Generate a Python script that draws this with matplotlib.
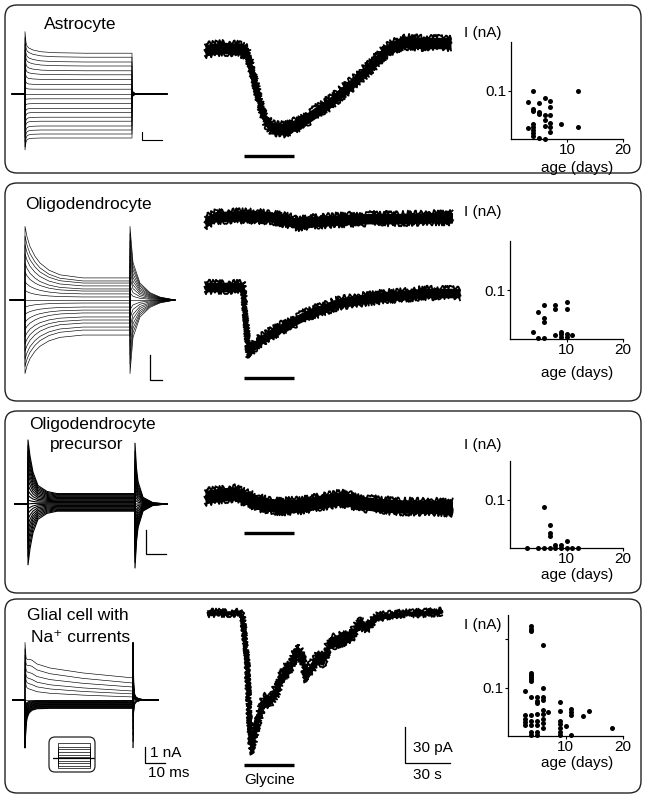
import numpy as np
import matplotlib
matplotlib.use("Agg")
import matplotlib.pyplot as plt
from matplotlib.patches import FancyBboxPatch

# ---------------- scatter data: age (days) vs glycine current I (nA)
astro_age = [4, 3, 3, 4, 4, 4, 4, 4, 4, 4, 5, 5, 5, 5, 6, 6, 6, 6, 6, 7, 7, 7, 7, 7, 7, 9, 12, 12]
astro_I = [0.100, 0.076, 0.022, 0.062, 0.058, 0.030, 0.024, 0.018, 0.012, 0.007,
           0.074, 0.056, 0.052, 0.002, 0.085, 0.050, 0.040, 0.026, 0.001,
           0.078, 0.066, 0.050, 0.033, 0.024, 0.014, 0.030, 0.100, 0.024]

oligo_age = [4, 5, 6, 5, 6, 6, 6, 8, 8, 10, 10, 8, 9, 9, 9, 10, 10, 11]
oligo_I = [0.015, 0.002, 0.002, 0.055, 0.069, 0.042, 0.035, 0.069, 0.062, 0.075,
           0.062, 0.009, 0.015, 0.011, 0.005, 0.005, 0.011, 0.009]

opc_age = [3, 5, 6, 7, 8, 9, 10, 11, 12, 6, 7, 7, 7, 8, 9, 10]
opc_I = [0.0, 0.0, 0.0, 0.0, 0.0, 0.0, 0.0, 0.0, 0.0, 0.084, 0.048, 0.031, 0.024, 0.006, 0.007, 0.015]

glia_age = [4, 4, 4, 6, 4, 4, 4, 4, 4, 3, 6, 4, 5, 5, 5, 6, 6, 9,
            3, 3, 3, 3, 4, 5, 4, 4, 5, 5, 6, 6, 6, 6, 6, 7, 9, 9, 9, 9, 9, 9,
            10, 11, 11, 11, 13, 14, 18, 4, 4, 5, 5, 11]
glia_I = [0.228, 0.222, 0.216, 0.189, 0.130, 0.126, 0.122, 0.118, 0.114, 0.092, 0.100,
          0.081, 0.081, 0.073, 0.068, 0.080, 0.074, 0.071,
          0.043, 0.036, 0.029, 0.022, 0.043, 0.046, 0.032, 0.022, 0.032, 0.022,
          0.053, 0.046, 0.036, 0.026, 0.016, 0.049, 0.051, 0.032, 0.024, 0.016, 0.009, 0.002,
          0.020, 0.056, 0.049, 0.043, 0.041, 0.051, 0.017, 0.009, 0.002, 0.009, 0.002, 0.002]

# ---------------- glycine responses: time (s), current (pA), band half width (pA)
astro_t = [0, 11, 23, 28, 32, 36, 40, 45, 53, 61, 69, 83, 97, 110, 121, 132, 146, 164]
astro_pA = [-1, 1, 0, -3, -20, -42, -59, -66, -67, -63, -57, -45, -30, -15, -1, 6, 5, 5]

oligo_top_t = [0, 7, 23, 43, 57, 61, 70, 90, 110, 130, 150, 165]
oligo_top_pA = [-2, 2.5, 3.3, 2.5, -1, -3.3, -1.7, 0, 1, 1, 1.7, 1.7]
oligo_t = [0, 25, 25.5, 29, 35, 45, 57, 68, 79, 90, 101, 112, 123, 135, 145, 157, 170]
oligo_pA = [0, 0, -1, -55, -46, -38, -30, -23, -18, -13, -11, -9, -7.5, -6.5, -5, -5, -5]

opc_t = [0, 11, 20, 28, 36, 50, 63, 77, 91, 105, 119, 132, 151, 165]
opc_pA = [0, 2, 3, -1, -5, -8, -7, -4, -1, -5, -7, -8, -8, -9]

glia_t = [2, 23, 25, 28, 29.5, 31, 33, 35, 39, 43, 48, 52, 57, 61, 65, 67, 71, 75, 79,
          83, 90, 97, 103, 108, 115, 123, 135, 145, 158]
glia_pA = [0, 0, -3, -37, -87, -114, -103, -91, -73, -73, -64, -50, -45, -31, -37, -53,
           -45, -37, -39, -25, -22, -20, -8, -12, -3, -2, 0, 0, 1]
glia_w = [2, 2, 2, 2.5, 3.5, 5, 6, 6, 6, 6, 6, 6, 6, 6, 6, 6, 6, 6, 6, 6, 6, 5, 5, 4,
          3, 2.5, 2, 2, 2]

gly_on, gly_off = 26, 59   # glycine application (s)

# ---------------- current families (nA): steady level, onset transient, slow part, tail
astro_steady = [2.55, 2.3, 2.0, 1.75, 1.45, 1.2, 0.9, 0.6, 0.3, 0.0,
                -0.3, -0.6, -0.9, -1.15, -1.45, -1.7, -2.0, -2.25, -2.5, -2.75]
astro_spike = [3.6, 3.25, 2.9, 2.55, 2.2, 1.8, 1.4, 1.0, 0.5, 0.0,
               -0.4, -0.8, -1.2, -1.6, -2.0, -2.3, -2.7, -3.0, -3.3, -3.5]
astro_sag = [0.3, 0.27, 0.23, 0.2, 0.15, 0.1, 0.05, 0, 0, 0, 0, 0, 0, 0, 0, 0, 0, 0, 0, 0]
astro_tail = [-0.3, -0.27, -0.24, -0.21, -0.18, -0.15, -0.12, -0.08, -0.04, 0,
              0.04, 0.08, 0.12, 0.15, 0.18, 0.21, 0.24, 0.27, 0.3, 0.32]
astro_step_t = [0, 0.5, 1, 2, 4, 8, 15, 30, 53.5]
astro_fast = [1, 0.35, 0.15, 0.06, 0.02, 0, 0, 0, 0]
astro_slow = [1, 1, 0.95, 0.85, 0.6, 0.3, 0.1, 0, 0]
astro_off_t = [0, 0.5, 1.5, 3, 6, 17.5]
astro_off = [1, 0.4, 0.12, 0.04, 0, 0]

oligo_steady = [1.38, 1.19, 1.06, 0.88, 0.69, 0.56, 0.38, 0.19, 0.0, -0.19,
                -0.44, -0.63, -0.81, -1.06, -1.25, -1.44, -1.69, -1.88, -2.19]
oligo_spike = [4.6, 4.0, 3.45, 2.9, 2.3, 1.75, 1.15, 0.6, 0.0, -0.45,
               -0.9, -1.4, -1.85, -2.3, -2.75, -3.2, -3.7, -4.15, -4.6]
oligo_tail = [-4.6, -4.0, -3.45, -2.9, -2.3, -1.75, -1.15, -0.6, 0.0, 0.45,
              0.9, 1.4, 1.85, 2.3, 2.75, 3.2, 3.7, 4.15, 4.6]
oligo_step_t = [0, 1, 2.5, 5, 7.5, 12, 17.5, 29, 52.5]
oligo_fast = [1, 0.8, 0.61, 0.42, 0.29, 0.15, 0.06, 0, 0]
oligo_off_t = [0, 1.5, 5, 10, 15, 22.5]
oligo_off = [1, 0.51, 0.23, 0.1, 0.04, 0]

opc_steady = [0.65, 0.6, 0.55, 0.5, 0.45, 0.4, 0.35, 0.3, 0.25, 0.2, 0.15, 0.1,
              0.05, 0.0, -0.05, -0.1, -0.15, -0.2, -0.25, -0.3, -0.35, -0.4, -0.45]
opc_spike = [4.0, 3.65, 3.3, 2.95, 2.6, 2.25, 1.9, 1.55, 1.2, 0.85, 0.55, 0.25,
             0.0, -0.3, -0.6, -0.95, -1.3, -1.65, -2.0, -2.4, -2.8, -3.3, -3.8]
opc_tail = [-4.0, -3.65, -3.3, -2.95, -2.6, -2.25, -1.9, -1.55, -1.2, -0.85, -0.55, -0.25,
            0.0, 0.3, 0.6, 0.95, 1.3, 1.65, 2.0, 2.4, 2.8, 3.3, 3.8]
opc_step_t = [0, 1, 2.5, 5, 9.5, 14.5, 53.5]
opc_fast = [1, 0.7, 0.4, 0.15, 0.04, 0, 0]
opc_off_t = [0, 0.7, 1.5, 4, 9, 16]
opc_off = [1, 0.6, 0.37, 0.11, 0.02, 0]

glia_steady = [1.38, 1.06, 0.81, 0.56, 0.38, 0.19, 0.0, -0.04, -0.08, -0.12,
               -0.16, -0.2, -0.24, -0.28, -0.32, -0.36, -0.4, -0.44, -0.48, -0.52]
glia_spike = [3.6, 3.2, 2.8, 2.4, 2.0, 1.6, 0.0, -0.5, -0.7, -0.9,
              -1.1, -1.3, -1.5, -1.7, -1.9, -2.1, -2.3, -2.5, -2.75, -3.0]
glia_sag = [1.0, 0.94, 0.75, 0.63, 0.5, 0.37, 0, 0, 0, 0, 0, 0, 0, 0, 0, 0, 0, 0, 0, 0]
glia_tail = [-3.0, -2.6, -2.2, -1.8, -1.4, -1.0, 0.0, 0.5, 0.7, 0.9,
             1.1, 1.3, 1.5, 1.7, 1.9, 2.1, 2.4, 2.7, 3.0, 3.6]
glia_step_t = [0, 0.5, 1, 2, 3.5, 6, 12.5, 29, 54]
glia_fast = [1, 0.45, 0.25, 0.12, 0.05, 0.01, 0, 0, 0]
glia_slow = [0, 0.3, 0.6, 0.9, 1, 0.85, 0.62, 0.31, 0]
glia_off_t = [0, 0.3, 0.8, 1.5, 3, 6, 12.5]
glia_off = [1, 0.3, 0.1, 0.05, 0.02, 0, 0]

# voltage protocol drawn in the inset (mV)
hold_mV = -70
protocol_mV = [25, 0, -15, -30, -50, -65, -90, -100, -120, -130]

# ---------------- layout
plt.rcParams['font.family'] = ['Liberation Sans', 'DejaVu Sans']
W, H = 645, 796
MS_PX, NA_PX = 2.0, 16.0      # family scale: px per ms, px per nA
S_PX, PA_PX = 1.5, 1.2        # glycine traces: px per s, px per pA
T0_PX = 205                   # x pixel where glycine traces start

fig = plt.figure(figsize=(W / 100, H / 100), dpi=100)


def axes_px(x0, y0, x1, y1):
    return fig.add_axes([x0 / W, 1 - y1 / H, (x1 - x0) / W, (y1 - y0) / H])


def fig_text(x, y, s, size=11, ha='center', **kw):
    fig.text(x / W, 1 - y / H, s, fontsize=size, ha=ha, va='center', **kw)


def rounded(x0, y0, x1, y1, r=12, lw=1.0):
    p = FancyBboxPatch((x0 / 100, (H - y1) / 100), (x1 - x0) / 100, (y1 - y0) / 100,
                       boxstyle="round,pad=0,rounding_size=%g" % (r / 100),
                       transform=fig.dpi_scale_trans, fill=False, lw=lw, ec='#222')
    fig.add_artist(p)


def scalebar(ax, x, y, dx, dy, lw=0.9):
    ax.plot([x, x, x + dx], [y + dy, y, y], color='k', lw=lw, solid_joinstyle='miter')


def family(box, origin, steady, spike, tail, step_t, fast, off_t, off, pre,
           sag=None, slow=None, lw=0.45, lw_dense=None):
    x0, y0, x1, y1 = box
    ax = axes_px(*box)
    ax.set_xlim((x0 - origin[0]) / MS_PX, (x1 - origin[0]) / MS_PX)
    ax.set_ylim((origin[1] - y1) / NA_PX, (origin[1] - y0) / NA_PX)
    ax.axis('off')
    if sag is None:
        sag, slow = [0] * len(steady), fast
    t_end = step_t[-1]
    t = [pre, 0] + list(step_t) + [t_end + o for o in off_t]
    for s, p, g, q in zip(steady, spike, sag, tail):
        v = [0, 0] + [s + (p - s) * f + g * h for f, h in zip(fast, slow)] + [q * f for f in off]
        w = lw_dense if (lw_dense is not None and s < 0) else lw
        ax.plot(t, v, color='k', lw=w)
    return ax


def trace_axes(box, base_y):
    x0, y0, x1, y1 = box
    ax = axes_px(*box)
    ax.set_xlim((x0 - T0_PX) / S_PX, (x1 - T0_PX) / S_PX)
    ax.set_ylim((base_y - y1) / PA_PX, (base_y - y0) / PA_PX)
    ax.axis('off')
    return ax


def draw_trace(ax, t, y, w, shift=0.0, jag=2.5):
    t = np.asarray(t, float)
    y = np.asarray(y, float) + shift
    w = np.broadcast_to(np.asarray(w, float), y.shape)
    ax.fill_between(t, y - w * 0.8, y + w * 0.8, color='k', lw=0)
    # ragged upper / lower edges of the noisy recording
    for edge in (y + w * 0.8, y - w * 0.8):
        ln, = ax.plot(t, edge, color='k', lw=1.3)
        ln.set_sketch_params(scale=jag, length=0.8, randomness=6)
    ln, = ax.plot(t, y, color='k', lw=1.8)
    ln.set_sketch_params(scale=jag, length=1.0, randomness=4)


def glycine_bar(ax, base_y, bar_px):
    yv = (base_y - bar_px) / PA_PX
    ax.plot([gly_on, gly_off], [yv, yv], color='k', lw=2.4, solid_capstyle='butt')


def scatter(box, ymax, age, cur, yticks, ilabel_y, age_y):
    x0, y0, x1, y1 = box
    ax = axes_px(*box)
    ax.set_xlim(0, 20)
    ax.set_ylim(0, ymax)
    ax.plot(age, cur, 'o', ms=3.6, color='k', mew=0, clip_on=False)
    for sp in ['top', 'right']:
        ax.spines[sp].set_visible(False)
    for sp in ['left', 'bottom']:
        ax.spines[sp].set_linewidth(0.9)
    ax.set_xticks([10, 20])
    ax.set_xticklabels(['10', '20'])
    ax.set_yticks(yticks)
    ax.set_yticklabels(['0.1'] + [''] * (len(yticks) - 1))
    ax.tick_params(direction='out', length=2.5, width=0.8, labelsize=11, pad=0.5)
    ax.patch.set_alpha(0)
    fig_text(501, ilabel_y, 'I (nA)', ha='right')
    fig_text(577, age_y, 'age (days)')
    return ax


# ---------------- panel frames
rounded(5, 5, 641, 173)
rounded(5, 183, 641, 401)
rounded(5, 411, 641, 593)
rounded(5, 599, 641, 793)

TITLE = 12.5

# ---------------- Astrocyte
fig_text(80, 25, 'Astrocyte', size=TITLE)
ax = family((5, 25, 180, 160), (25, 94), astro_steady, astro_spike, astro_tail,
            astro_step_t, astro_fast, astro_off_t, astro_off, -6.5, astro_sag, astro_slow)
scalebar(ax, 58.5, -2.875, 10, 0.5, lw=0.8)
ax = trace_axes((195, 25, 470, 165), 49)
draw_trace(ax, astro_t, astro_pA, 6)
glycine_bar(ax, 49, 156)
scatter((511, 42, 623, 139), 0.2, astro_age, astro_I, [0.1], 33, 168)

# ---------------- Oligodendrocyte
fig_text(88, 205, 'Oligodendrocyte', size=TITLE)
ax = family((5, 215, 180, 392), (25, 300), oligo_steady, oligo_spike, oligo_tail,
            oligo_step_t, oligo_fast, oligo_off_t, oligo_off, -7.5)
scalebar(ax, 62.5, -5.0, 6, 1.56)
ax = trace_axes((195, 195, 470, 392), 287)
draw_trace(ax, oligo_top_t, oligo_top_pA, 5.5, shift=56)
draw_trace(ax, oligo_t, oligo_pA, 5)
glycine_bar(ax, 287, 378)
scatter((510, 241, 623, 339), 0.2, oligo_age, oligo_I, [0.1], 212, 373)

# ---------------- Oligodendrocyte precursor
fig_text(92, 425, 'Oligodendrocyte', size=TITLE)
fig_text(87, 445, 'precursor', size=TITLE)
ax = family((5, 430, 180, 580), (28, 504), opc_steady, opc_spike, opc_tail,
            opc_step_t, opc_fast, opc_off_t, opc_off, -6.5, lw=0.8)
scalebar(ax, 59, -3.125, 10, 1.5)
ax = trace_axes((195, 470, 470, 545), 497)
draw_trace(ax, opc_t, opc_pA, 7)
glycine_bar(ax, 497, 533)
scatter((510, 461, 623, 548), 0.18, opc_age, opc_I, [0.1], 445, 575)

# ---------------- Glial cell with Na+ currents
fig_text(78, 615, 'Glial cell with', size=TITLE)
fig_text(81, 637, 'Na\u207a currents', size=TITLE)
ax = family((5, 635, 180, 790), (25, 700), glia_steady, glia_spike, glia_tail,
            glia_step_t, glia_fast, glia_off_t, glia_off, -6, glia_sag, glia_slow,
            lw=0.45, lw_dense=0.8)
scalebar(ax, 60, -3.94, 10, 1.0)
fig_text(150, 753, '1 nA', ha='left')
fig_text(148, 773, '10 ms', ha='left')

# inset with the voltage protocol
rounded(49, 737, 95, 772, r=6, lw=0.9)
axi = axes_px(53, 740, 95, 770)
axi.set_xlim(0, 1)
axi.set_ylim(-145, 42.5)
axi.axis('off')
for lv in protocol_mV:
    axi.plot([0, 0.12, 0.12, 0.88, 0.88, 1], [hold_mV, hold_mV, lv, lv, hold_mV, hold_mV],
             color='k', lw=0.5)
axi.plot([0, 1], [hold_mV, hold_mV], color='k', lw=0.9)

ax = trace_axes((195, 600, 470, 790), 613)
draw_trace(ax, glia_t, glia_pA, glia_w)
glycine_bar(ax, 613, 765)
scalebar(ax, (405 - T0_PX) / S_PX, (613 - 763) / PA_PX, 30, 30)
fig_text(270, 780, 'Glycine')
fig_text(413, 748, '30 pA', ha='left')
fig_text(413, 775, '30 s', ha='left')
scatter((508, 615, 623, 736), 0.25, glia_age, glia_I, [0.1, 0.2], 625, 763)

fig.savefig('out.png', dpi=100)
